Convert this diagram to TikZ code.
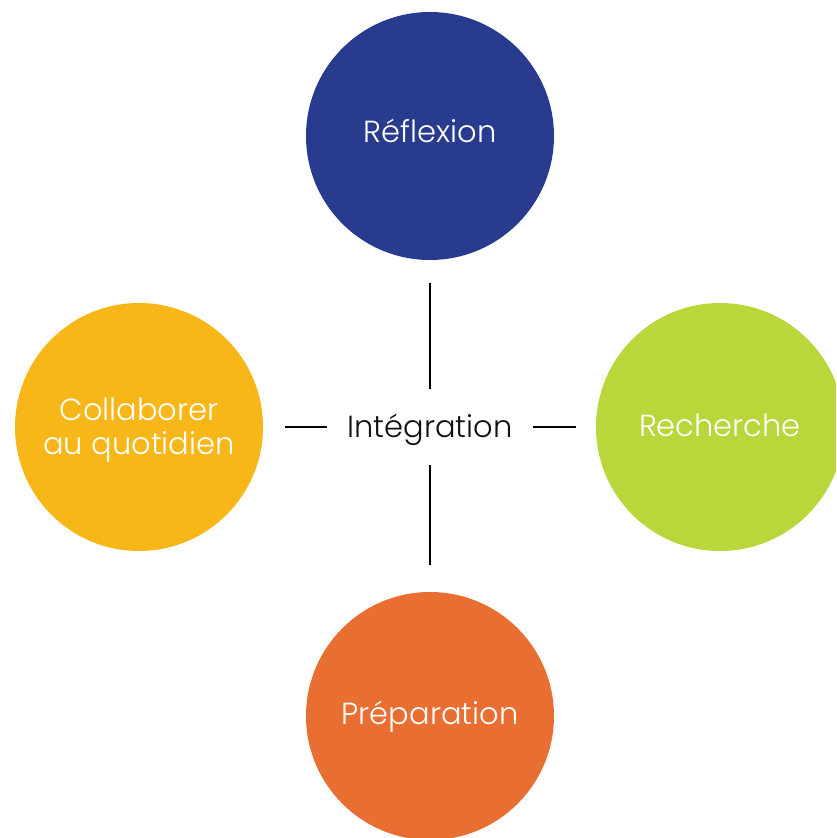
\documentclass[tikz,border=0pt]{standalone}
\usepackage{fontspec}
\setmainfont{Poppins}[UprightFont=* Light]
\definecolor{cblue}{HTML}{283B8E}
\definecolor{cgreen}{HTML}{B9D63B}
\definecolor{corange}{HTML}{E96E32}
\definecolor{cyellow}{HTML}{F8B719}
\definecolor{ctext}{HTML}{111111}
\begin{document}
\begin{tikzpicture}[x=1pt,y=1pt,
  disc/.style={circle,minimum size=248pt,inner sep=0pt,text=white,font=\fontsize{30.5}{34}\selectfont,align=center,text height=21pt,text depth=0pt},
  hub/.style={minimum width=206pt,minimum height=76pt,inner sep=0pt,text=ctext,font=\fontsize{30.5}{34}\selectfont,text height=21pt,text depth=0pt},
  conn/.style={draw=black,line width=1.8pt}]
\useasboundingbox (0,0) rectangle (836,838);
\clip (0,0) rectangle (836,838);
\node[disc,fill=cblue,text depth=8pt] (top) at (430,702) {Réflexion};
\node[disc,fill=cyellow,text height=55pt] (left) at (139,411) {Collaborer\\au quotidien};
\node[disc,fill=cgreen,text depth=2pt] (right) at (720,411) {Recherche};
\node[disc,fill=corange,text depth=3pt] (bottom) at (430,122) {Préparation};
\node[hub] (integ) at (430,411) {Intégration};
\draw[conn,shorten >=23pt] (integ) -- (top);
\draw[conn,shorten >=22pt] (integ) -- (left);
\draw[conn,shorten >=20pt] (integ) -- (right);
\draw[conn,shorten >=27pt] (integ) -- (bottom);
\end{tikzpicture}
\end{document}
